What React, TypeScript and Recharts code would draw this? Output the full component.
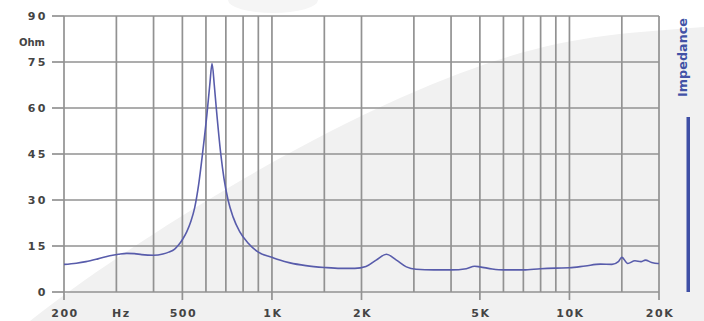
import React from 'react';
import { LineChart, Line, XAxis, YAxis, CartesianGrid } from 'recharts';

// impedance curve (Hz / Ohm)
const freqs = [
    200, 220, 237, 260, 285, 305, 325, 345, 365, 400, 430, 450, 471, 486, 501, 517, 533, 550, 567,
    585, 604, 618, 629, 640, 650, 673, 690, 712, 740, 779, 831, 900, 1000, 1062, 1150, 1300, 1500,
    1700, 1900, 2070, 2240, 2426, 2620, 2830, 3050, 3500, 4000, 4500, 4800, 5000, 5500, 6000, 7000, 8000,
    9000, 10000, 11300, 12700, 13900, 14600, 15000, 15700, 16600, 17400, 18000, 18900, 19800, 20000,
];
const impedance = [
    9.0, 9.4, 9.9, 10.8, 11.8, 12.3, 12.6, 12.5, 12.2, 12.0, 12.4, 13.0, 14.0, 15.4, 17.2, 19.6, 22.8, 27.5, 35,
    45.5, 57.5, 67.5, 74.5, 67.5, 60, 45, 37, 30, 24.5, 19.7, 16, 13, 11.3, 10.4, 9.5, 8.6, 8.0,
    7.7, 7.7, 8.3, 10.4, 12.3, 10.4, 8.2, 7.4, 7.2, 7.2, 7.6, 8.4, 8.2, 7.5, 7.2, 7.2, 7.6,
    7.8, 7.9, 8.5, 9.1, 9.0, 9.9, 11.3, 9.3, 10.2, 9.9, 10.4, 9.6, 9.3, 9.3,
];

const freqTicks = [200, 300, 400, 500, 600, 700, 800, 900, 1000, 1500, 2000, 3000, 4000, 5000, 6000, 7000, 8000, 9000, 10000, 15000, 20000];
const freqLabels: Record<number, string> = {
    200: '200', 300: 'Hz', 500: '500', 1000: '1K', 2000: '2K', 5000: '5K', 10000: '10K', 20000: '20K',
};
const ohmTicks = [0, 15, 30, 45, 60, 75, 90];

const data = freqs.map((f, i) => ({ freq: f, ohm: impedance[i] }));

const gridColor = '#929292';
const labelFont = "'DejaVu Sans', Verdana, sans-serif";

const FreqTick = (props: any) => {
    const { x, y, payload } = props;
    const label = freqLabels[payload.value];
    if (!label) return null;
    const isUnit = label === 'Hz';
    return (
        <g>
            {!isUnit && <line x1={x} x2={x} y1={y - 12} y2={y - 4} stroke={gridColor} strokeWidth={1.7} />}
            <text
                x={x + (isUnit ? 5 : 1)}
                y={y + 13}
                textAnchor="middle"
                fontFamily={labelFont}
                fontWeight="bold"
                fontSize={11}
                letterSpacing={1.5}
                fill="#444"
            >
                {label}
            </text>
        </g>
    );
};

const App: React.FC = () => {
    return (
        <div style={{ position: 'absolute', left: 0, top: 0, width: 704, height: 321, background: '#fff' }}>
            {/* faint watermark swoosh behind the chart */}
            <svg width={704} height={321} style={{ position: 'absolute', left: 0, top: 0 }}>
                <path d="M 30 321 C 100 265, 260 160, 400 98 S 600 35, 704 27 L 704 321 Z" fill="#f1f1f1" />
                <ellipse cx={273} cy={0} rx={45} ry={13} fill="#f5f5f5" />
            </svg>

            <div style={{ position: 'absolute', left: 0, top: 0 }}>
                <LineChart width={704} height={321} data={data} margin={{ top: 16, right: 45, bottom: 0, left: 0 }}>
                    <CartesianGrid stroke={gridColor} strokeWidth={1.7} />
                    <XAxis
                        dataKey="freq"
                        type="number"
                        scale="log"
                        domain={[200, 20000]}
                        allowDataOverflow
                        ticks={freqTicks}
                        interval={0}
                        height={29}
                        axisLine={false}
                        tickLine={false}
                        tickSize={8}
                        tickMargin={4}
                        tick={<FreqTick />}
                    />
                    <YAxis
                        type="number"
                        domain={[0, 90]}
                        ticks={ohmTicks}
                        interval={0}
                        width={64}
                        axisLine={false}
                        tickLine={{ stroke: gridColor, strokeWidth: 1.7 }}
                        tickSize={12}
                        tickMargin={4}
                        tick={{ fill: '#444', fontSize: 11, fontWeight: 'bold', fontFamily: labelFont, letterSpacing: 2.5 }}
                    />
                    <Line
                        type="monotone"
                        dataKey="ohm"
                        stroke="#585cab"
                        strokeWidth={1.6}
                        dot={false}
                        isAnimationActive={false}
                    />
                </LineChart>
            </div>

            {/* unit label and the side legend */}
            <svg width={704} height={321} style={{ position: 'absolute', left: 0, top: 0, pointerEvents: 'none' }}>
                <text x={45} y={46} textAnchor="end" fontFamily={labelFont} fontWeight="bold" fontSize={10} fill="#444">
                    Ohm
                </text>
                <text
                    transform="translate(687,97) rotate(-90)"
                    textLength={79}
                    lengthAdjust="spacingAndGlyphs"
                    fontFamily="'DejaVu Sans Condensed', 'DejaVu Sans', sans-serif"
                    fontWeight="bold"
                    fontSize={13}
                    fill="#4252a6"
                >
                    Impedance
                </text>
                <rect x={686.5} y={117} width={3.5} height={175} fill="#3f4fa5" />
            </svg>
        </div>
    );
};

export default App;
